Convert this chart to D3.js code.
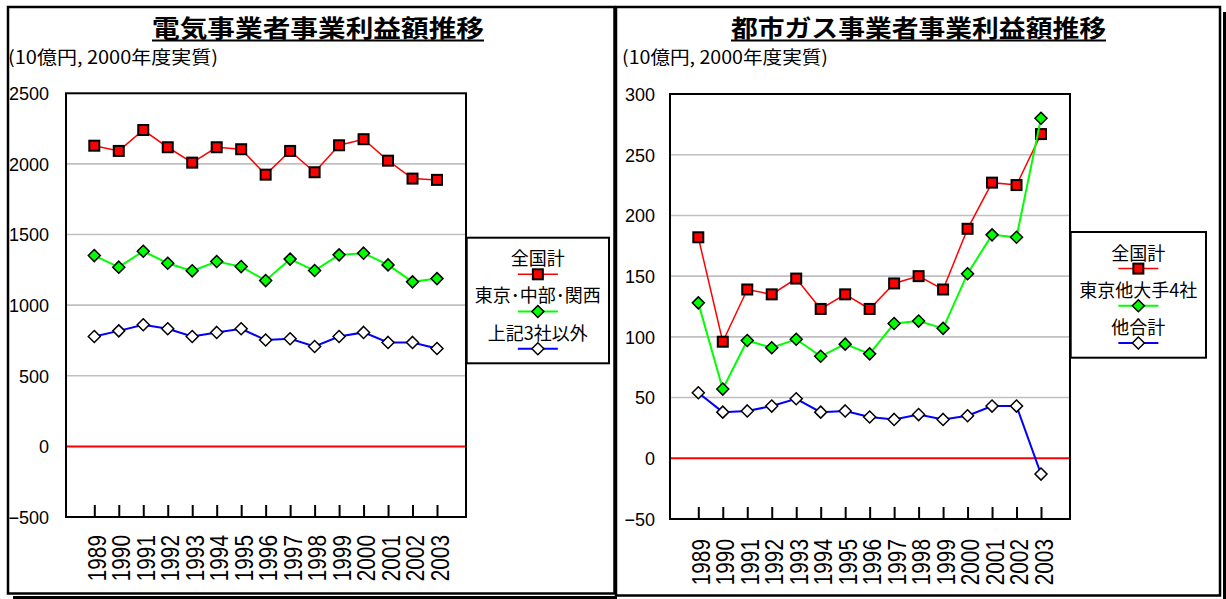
<!DOCTYPE html>
<html>
<head>
<meta charset="utf-8">
<script src="https://cdn.jsdelivr.net/npm/d3@7"></script>
<style>
html,body{margin:0;padding:0;background:#fff;}
svg{display:block;}
</style>
</head>
<body>
<svg id="c" width="1226" height="599"></svg>
<script>
// ---------- data ----------
const years = ['1989','1990','1991','1992','1993','1994','1995','1996','1997','1998','1999','2000','2001','2002','2003'];

const elecTitle = '電気事業者事業利益額推移';
const gasTitle = '都市ガス事業者事業利益額推移';
const unitLabel = '(10億円, 2000年度実質)';

const elecNames = ['全国計', '東京･中部･関西', '上記3社以外'];
const elecTotal  = [2129, 2092, 2240, 2118, 2009, 2118, 2104, 1924, 2092, 1941, 2132, 2175, 2023, 1896, 1887];
const elecBig3   = [1351, 1269, 1382, 1297, 1243, 1309, 1273, 1174, 1326, 1245, 1356, 1368, 1285, 1165, 1188];
const elecOthers = [778, 818, 861, 833, 778, 807, 833, 753, 762, 707, 778, 807, 736, 736, 693];
const elecTicks  = [-500, 0, 500, 1000, 1500, 2000, 2500];

const gasNames = ['全国計', '東京他大手4社', '他合計'];
const gasTotal  = [182, 96, 139, 135, 148, 123, 135, 123, 144, 150, 139, 189, 227, 225, 267];
const gasBig4   = [128, 57, 97, 91, 98, 84, 94, 86, 111, 113, 107, 152, 184, 182, 280];
const gasOthers = [54, 38, 39, 43, 49, 38, 39, 34, 32, 36, 32, 35, 43, 43, -13];
const gasTicks  = [-50, 0, 50, 100, 150, 200, 250, 300];

// ---------- styles ----------
const seriesStyle = [
  {color: '#ff0000', width: 1.5, marker: 'square', fill: '#ff0000'},
  {color: '#00ff00', width: 2,   marker: 'diamond', fill: '#00ff00'},
  {color: '#0000ff', width: 2,   marker: 'diamond', fill: '#ffffff'}
];
const JP = '"Noto Sans CJK JP", "Noto Sans CJK SC", sans-serif';
const NUM = '"Liberation Sans", Arial, sans-serif';

const svg = d3.select('#c');

function marker(g, type, x, y, fill) {
  if (type === 'square') {
    g.append('rect').attr('x', x - 5).attr('y', y - 5).attr('width', 10).attr('height', 10)
      .attr('fill', fill).attr('stroke', '#000').attr('stroke-width', 2);
  } else {
    const r = 6;
    g.append('path').attr('d', `M${x},${y - r}L${x + r},${y}L${x},${y + r}L${x - r},${y}Z`)
      .attr('fill', fill).attr('stroke', '#000').attr('stroke-width', 1.5);
  }
}

function drawChart(cfg) {
  const g = svg.append('g');
  // panel border
  g.append('rect').attr('x', cfg.panel[0]).attr('y', cfg.panel[1])
    .attr('width', cfg.panel[2] - cfg.panel[0]).attr('height', cfg.panel[3] - cfg.panel[1])
    .attr('fill', 'none').attr('stroke', '#000').attr('stroke-width', 2.5);

  // title
  g.append('text').attr('x', cfg.titleX).attr('y', 36.5)
    .attr('text-anchor', 'middle').attr('font-family', JP).attr('font-weight', 'bold')
    .attr('font-size', 24).attr('textLength', cfg.titleW).attr('lengthAdjust', 'spacingAndGlyphs')
    .text(cfg.title);
  g.append('line').attr('x1', cfg.titleX - cfg.titleW / 2).attr('x2', cfg.titleX + cfg.titleW / 2)
    .attr('y1', 40.5).attr('y2', 40.5).attr('stroke', '#000').attr('stroke-width', 2);

  // unit label
  g.append('text').attr('x', cfg.subX).attr('y', 64).attr('font-family', JP).attr('font-size', 18)
    .attr('textLength', cfg.subW).attr('lengthAdjust', 'spacingAndGlyphs').text(unitLabel);

  const p = cfg.plot;
  const x = d3.scalePoint().domain(years).range([p.left + 28.3, p.right - 29]);
  const y = d3.scaleLinear().domain(cfg.domain).range([p.bottom, p.top]);

  // gridlines
  g.append('g').selectAll('line').data(cfg.ticks.filter(v => v !== cfg.domain[0] && v !== cfg.domain[1]))
    .join('line').attr('x1', p.left).attr('x2', p.right)
    .attr('y1', d => y(d)).attr('y2', d => y(d))
    .attr('stroke', d => d === 0 ? '#ff0000' : '#c0c0c0')
    .attr('stroke-width', d => d === 0 ? 2 : 1.6);

  // plot border
  g.append('rect').attr('x', p.left).attr('y', p.top).attr('width', p.right - p.left)
    .attr('height', p.bottom - p.top).attr('fill', 'none').attr('stroke', '#000').attr('stroke-width', 2);

  // y axis labels
  const ya = g.append('g').attr('transform', `translate(${p.left},0)`)
    .call(d3.axisLeft(y).tickValues(cfg.ticks).tickFormat(d3.format('d')).tickSize(0).tickPadding(p.left - cfg.labelRight));
  ya.select('.domain').remove();
  ya.selectAll('text').attr('font-family', NUM).attr('font-size', 18).attr('fill', '#000').attr('dy', '0.35em');

  // x axis
  const xa = g.append('g').attr('transform', `translate(0,${p.bottom})`)
    .call(d3.axisBottom(x).tickSize(-12).tickSizeOuter(0));
  xa.select('.domain').remove();
  xa.selectAll('.tick line').attr('stroke', '#000').attr('stroke-width', 2);
  xa.selectAll('text').attr('x', null).attr('y', null).attr('dy', null)
    .attr('text-anchor', 'end').attr('font-family', NUM).attr('font-size', 26).attr('fill', '#000')
    .attr('transform', `translate(11,${cfg.labelOffset}) rotate(-90) scale(0.8,1)`);

  // series
  const line = d3.line().x((d, i) => x(years[i])).y(d => y(d));
  cfg.series.forEach((vals, si) => {
    const st = seriesStyle[si];
    const sg = g.append('g');
    sg.append('path').attr('d', line(vals)).attr('fill', 'none')
      .attr('stroke', st.color).attr('stroke-width', st.width);
    vals.forEach((v, i) => marker(sg, st.marker, x(years[i]), y(v), st.fill));
  });

  // legend
  const L = cfg.legend;
  g.append('rect').attr('x', L[0]).attr('y', L[1]).attr('width', L[2]).attr('height', L[3])
    .attr('fill', '#fff').attr('stroke', '#000').attr('stroke-width', 2);
  const cx = L[0] + L[2] / 2;
  cfg.names.forEach((name, i) => {
    const st = seriesStyle[i];
    const ty = L[1] + 27.5 + i * 37.2;
    const ly = L[1] + 36.6 + i * 37.2;
    g.append('text').attr('x', cx).attr('y', ty).attr('text-anchor', 'middle')
      .attr('font-family', JP).attr('font-size', 18).text(name);
    g.append('line').attr('x1', cx - 20).attr('x2', cx + 20).attr('y1', ly).attr('y2', ly)
      .attr('stroke', st.color).attr('stroke-width', st.width);
    marker(g, st.marker, cx, ly, st.fill);
  });
}

// shadows
svg.append('line').attr('x1', 13).attr('x2', 617).attr('y1', 597.5).attr('y2', 597.5)
  .attr('stroke', '#000').attr('stroke-width', 3);
svg.append('line').attr('x1', 1224.5).attr('x2', 1224.5).attr('y1', 12).attr('y2', 599)
  .attr('stroke', '#000').attr('stroke-width', 3);

drawChart({
  panel: [8, 7, 614.5, 593.5],
  title: elecTitle, titleX: 318, titleW: 332,
  subX: 8, subW: 210,
  plot: {left: 66, right: 466, top: 93.3, bottom: 517},
  domain: [-500, 2500], ticks: elecTicks, labelRight: 49, labelOffset: 18,
  series: [elecTotal, elecBig3, elecOthers], names: elecNames,
  legend: [466.7, 237.7, 142.3, 125.6]
});

drawChart({
  panel: [616, 7, 1220, 595.5],
  title: gasTitle, titleX: 918.5, titleW: 375,
  subX: 622, subW: 206,
  plot: {left: 670, right: 1070, top: 94, bottom: 519},
  domain: [-50, 300], ticks: gasTicks, labelRight: 655, labelOffset: 20,
  series: [gasTotal, gasBig4, gasOthers], names: gasNames,
  legend: [1070.7, 232, 135.3, 125.7]
});
</script>
</body>
</html>
